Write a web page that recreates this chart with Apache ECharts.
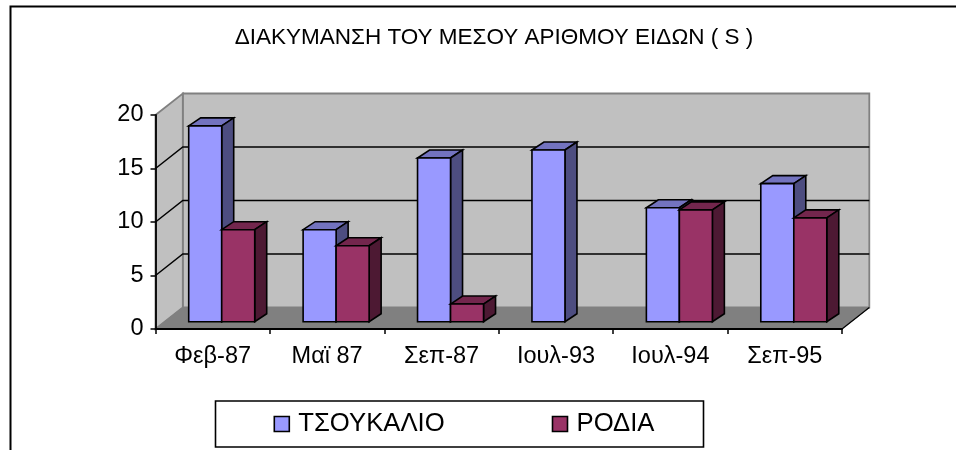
<!DOCTYPE html>
<html>
<head>
<meta charset="utf-8">
<style>
  html, body { margin: 0; padding: 0; background: #fff; }
  #chart { width: 956px; height: 450px; }
</style>
</head>
<body>
<div id="chart"></div>
<script src="https://cdn.jsdelivr.net/npm/echarts@6/dist/echarts.min.js"></script>
<script>
  var chartTitle = 'ΔΙΑΚΥΜΑΝΣΗ ΤΟΥ ΜΕΣΟΥ ΑΡΙΘΜΟΥ ΕΙΔΩΝ ( S )'
  var categories = ['Φεβ-87', 'Μαϊ 87', 'Σεπ-87', 'Ιουλ-93', 'Ιουλ-94', 'Σεπ-95']
  var seriesNames = ['ΤΣΟΥΚΑΛΙΟ', 'ΡΟΔΙΑ']
  var tsoukalio = [18.3, 8.6, 15.3, 16.05, 10.65, 12.9]
  var rodia = [8.6, 7.1, 1.65, null, 10.45, 9.7]
  var yTicks = [0, 5, 10, 15, 20]

  var fontName = '"Liberation Sans", Arial, sans-serif'

  // depth of the fake 3d box
  var wallDx = 27.3, wallDy = -21.5
  var barDx = 9, barDy = -7.3
  var sideDx = 12, sideDy = -8
  var barWidth = 33

  function poly(points, fill, stroke, lineWidth) {
    return {
      type: 'polygon',
      shape: { points: points },
      style: { fill: fill, stroke: stroke, lineWidth: lineWidth, lineJoin: 'miter' }
    }
  }

  function line(points, stroke, lineWidth) {
    return {
      type: 'polyline',
      shape: { points: points },
      style: { fill: null, stroke: stroke, lineWidth: lineWidth }
    }
  }

  function renderWalls(params, api) {
    var c = params.coordSys
    var l = c.x, r = c.x + c.width, t = c.y, b = c.y + c.height
    return {
      type: 'group',
      children: [
        poly([[l + wallDx, t + wallDy], [r + wallDx, t + wallDy], [r + wallDx, b + wallDy], [l + wallDx, b + wallDy]], '#c0c0c0', '#808080', 1.8),
        poly([[l, t], [l + wallDx, t + wallDy], [l + wallDx, b + wallDy], [l, b]], '#c0c0c0', '#808080', 1.8),
        poly([[l, b], [r, b], [r + wallDx, b + wallDy], [l + wallDx, b + wallDy]], '#808080', '#808080', 1),
        line([[r, b], [r + wallDx, b + wallDy]], '#000', 1.2)
      ]
    }
  }

  function renderGridLine(params, api) {
    var c = params.coordSys
    var v = api.value(0)
    if (v === 0 || v === 20) return null
    var y = api.coord([0, v])[1]
    return line([[c.x, y], [c.x + wallDx, y + wallDy], [c.x + c.width + wallDx, y + wallDy]], '#000', 1.5)
  }

  function makeBarRenderer(index, colors) {
    return function (params, api) {
      var v = api.value(1)
      if (isNaN(v)) return null
      var top = api.coord([api.value(0), v])
      var base = api.coord([api.value(0), 0])
      var x0 = top[0] - barWidth + index * barWidth + barDx
      var x1 = x0 + barWidth
      var y0 = top[1] + barDy
      var y1 = base[1] + barDy
      return {
        type: 'group',
        children: [
          poly([[x0, y0], [x0 + sideDx, y0 + sideDy], [x1 + sideDx, y0 + sideDy], [x1, y0]], colors[1], '#000', 1.6),
          poly([[x1, y0], [x1 + sideDx, y0 + sideDy], [x1 + sideDx, y1 + sideDy], [x1, y1]], colors[2], '#000', 1.6),
          poly([[x0, y0], [x1, y0], [x1, y1], [x0, y1]], colors[0], '#000', 1.6)
        ]
      }
    }
  }

  var chart = echarts.init(document.getElementById('chart'))

  chart.setOption({
    animation: false,
    backgroundColor: '#fff',
    title: {
      text: chartTitle,
      left: 489,
      top: 21,
      textAlign: 'center',
      textStyle: { color: '#000', fontFamily: fontName, fontSize: 22.5, fontWeight: 'normal' }
    },
    legend: {
      data: seriesNames,
      left: 215.5,
      top: 401,
      orient: 'horizontal',
      padding: [10, 49, 10, 58],
      itemGap: 107,
      itemWidth: 15,
      itemHeight: 15,
      icon: 'rect',
      selectedMode: false,
      borderColor: '#000',
      borderWidth: 1.6,
      itemStyle: { borderColor: '#000', borderWidth: 1.6 },
      textStyle: { color: '#000', fontFamily: fontName, fontSize: 25.7, padding: [0, 0, 0, 4] }
    },
    grid: { left: 155.5, right: 114, top: 115, bottom: 121 },
    xAxis: {
      type: 'category',
      data: categories,
      z: 5,
      axisLine: { lineStyle: { color: '#000', width: 1.8 } },
      axisTick: { show: true, length: 5, alignWithLabel: false, lineStyle: { color: '#000', width: 1.5 } },
      axisLabel: { color: '#000', fontFamily: fontName, fontSize: 23.5, margin: 16, interval: 0 }
    },
    yAxis: {
      type: 'value',
      min: 0,
      max: 20,
      interval: 5,
      z: 5,
      splitLine: { show: false },
      axisLine: { show: true, lineStyle: { color: '#000', width: 1.8 } },
      axisTick: { show: true, length: 5, lineStyle: { color: '#000', width: 1.5 } },
      axisLabel: { color: '#000', fontFamily: fontName, fontSize: 23.5, margin: 12 }
    },
    series: [
      { type: 'custom', name: 'walls', silent: true, z: 1, renderItem: renderWalls, data: [[0]] },
      { type: 'custom', name: 'gridlines', silent: true, z: 1, renderItem: renderGridLine, data: yTicks.map(function (v) { return [v] }), encode: { x: -1, y: -1 } },
      {
        type: 'custom',
        name: seriesNames[0],
        z: 2,
        itemStyle: { color: '#9999ff' },
        renderItem: makeBarRenderer(0, ['#9999ff', '#7373bf', '#4d4d80']),
        encode: { x: 0, y: 1 },
        data: tsoukalio.map(function (v, i) { return [i, v] })
      },
      {
        type: 'custom',
        name: seriesNames[1],
        z: 2,
        itemStyle: { color: '#993366' },
        renderItem: makeBarRenderer(1, ['#993366', '#73264d', '#4d1933']),
        encode: { x: 0, y: 1 },
        data: rodia.map(function (v, i) { return [i, v] })
      }
    ],
    graphic: [{
      type: 'polyline',
      z: 10,
      shape: { points: [[10.5, 450], [10.5, 6.5], [956, 6.5]] },
      style: { fill: null, stroke: '#000', lineWidth: 2 }
    }]
  })
</script>
</body>
</html>
